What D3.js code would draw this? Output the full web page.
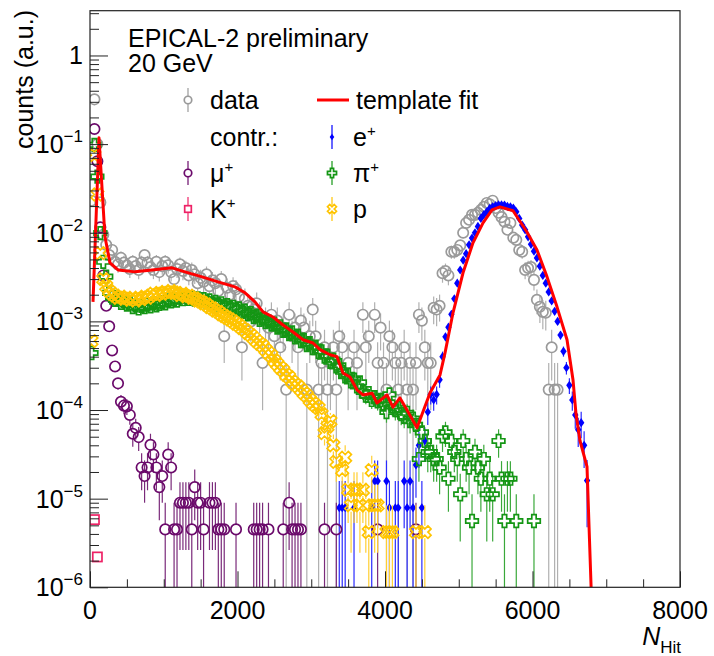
<!DOCTYPE html>
<html><head><meta charset="utf-8">
<script src="https://cdnjs.cloudflare.com/ajax/libs/d3/7.8.5/d3.min.js"></script>
<style>
body{margin:0;background:#fff}
svg{display:block}
text{font-family:"Liberation Sans",Arial,Helvetica,sans-serif;fill:#000}
</style>
</head><body>
<svg id="chart" width="714" height="656"></svg>
<script>
// ---------------- data (N_Hit bin centres, bin width 40) ----------------
const BIN = 40;
const xTicksMajor = [0, 2000, 4000, 6000, 8000];
const xTickLabels = ["0", "2000", "4000", "6000", "8000"];
const yTickExps = [-6, -5, -4, -3, -2, -1, 0];

// data: dense bins 20..3420, sparse 3500..3780, dense 3860..6340
const dataBand1 = [2.3e-2,0.32,0.1,2.2e-2,9.5e-3,7.3e-3,5.6e-3,6.4e-3,4.7e-3,4.4e-3,
  5.2e-3,4.6e-3,4.3e-3,3.9e-3,4.7e-3,4.2e-3,3.8e-3,4.6e-3,5.6e-3,4.6e-3,
  4.1e-3,3.8e-3,4.7e-3,3.6e-3,4.2e-3,4.7e-3,4.3e-3,3.6e-3,3.0e-3,3.9e-3,
  4.4e-3,3.7e-3,4.0e-3,3.3e-3,3.8e-3,3.4e-3,2.7e-3,3.1e-3,2.8e-3,3.4e-3,
  2.5e-3,2.9e-3,2.7e-3,2.2e-3,3.0e-3,6.8e-4,2.4e-3,2.0e-3,2.5e-3,2.3e-3,
  1.9e-3,5.1e-4,1.8e-3,1.5e-3,1.0e-3,1.36e-3,1.6e-3,1.19e-3,3.4e-4,1.02e-3,
  8.5e-4,1.19e-3,6.8e-4,1.02e-3,5.1e-4,8.5e-4,1.7e-4,1.19e-3,6.8e-4,8.5e-4,
  5.1e-4,1.02e-3,8.5e-4,1.7e-4,6.8e-4,1.36e-3,6.8e-4,1.7e-4,3.4e-4,5.1e-4,
  1.7e-4,3.4e-4,5.1e-4,1.7e-4,6.8e-4,5.1e-4];
const dataSparse = [[3500,3.4e-4],[3580,5.1e-4],[3620,3.4e-4],[3700,1.19e-3],[3740,5.1e-4],[3780,6.8e-4]];
const dataBand2 = [1.19e-3,3.4e-4,8.5e-4,3.4e-4,1.7e-4,6.8e-4,5.1e-4,3.4e-4,1.7e-4,3.4e-4,
  5.1e-4,1.7e-4,3.4e-4,1.7e-4,3.4e-4,1.19e-3,1.02e-3,5.1e-4,3.4e-4,3.4e-4,
  1.42e-3,1.36e-3,1.5e-3,3.5e-3,3.7e-3,3.3e-3,6.1e-3,6.1e-3,6.4e-3,7.2e-3,
  1.0e-2,1.29e-2,1.4e-2,1.59e-2,1.59e-2,1.68e-2,1.81e-2,1.96e-2,2.17e-2,2.1e-2,
  2.3e-2,1.9e-2,1.68e-2,1.5e-2,1.33e-2,1.08e-2,1.29e-2,8.8e-3,8.3e-3,6.4e-3,
  6.1e-3,3.8e-3,4.0e-3,4.1e-3,2.94e-3,1.75e-3,1.46e-3,1.28e-3,1.25e-3,1.7e-4,
  5.1e-4,1.7e-4,1.7e-4];

// e+ contribution
const elecPts = [[3380,7.9e-6],[3420,7.9e-6],[3460,7.9e-6],[3580,7.9e-6],[3820,7.9e-6],[3860,1.58e-5],
  [3900,1.58e-5],[4020,1.58e-5],[4060,7.9e-6],[4140,7.9e-6],[4180,7.9e-6],[4260,1.58e-5],[4300,7.9e-6],
  [4340,1.58e-5],[4380,7.9e-6],[4420,2.4e-5],[4460,4.0e-5],[4500,7.9e-6],[4540,4.5e-5],[4580,9.5e-5],
  [4620,1.5e-4],[4660,1.3e-4],[4700,1.5e-4],[4740,2.2e-4],[4780,4.0e-4],[4820,6.7e-4],[4860,8.6e-4],
  [4900,1.2e-3],[4940,1.8e-3],[4980,2.7e-3],[5020,3.8e-3],[5060,4.9e-3],[5100,5.8e-3],[5140,7.3e-3],
  [5180,8.7e-3],[5220,1.0e-2],[5260,1.18e-2],[5300,1.45e-2],[5340,1.6e-2],[5380,1.72e-2],[5420,1.88e-2],
  [5460,1.96e-2],[5500,2.02e-2],[5540,2.06e-2],[5580,2.06e-2],[5620,2.05e-2],[5660,1.98e-2],[5700,1.96e-2],
  [5740,1.9e-2],[5780,1.72e-2],[5820,1.45e-2],[5860,1.22e-2],[5900,1.08e-2],[5940,9.0e-3],[5980,7.4e-3],
  [6020,6.2e-3],[6060,5.2e-3],[6100,4.2e-3],[6140,3.3e-3],[6180,2.7e-3],[6220,2.15e-3],[6260,1.7e-3],
  [6300,1.3e-3],[6340,1.0e-3],[6380,7.0e-4],[6420,4.6e-4],[6460,3.0e-4],[6500,1.9e-4],[6540,1.3e-4],
  [6580,8.8e-5],[6620,6.0e-5],[6660,7.2e-5],[6700,4.0e-5],[6740,1.6e-5]];

// mu+ contribution
const muonPts = [[60,0.148],[100,0.064],[140,0.0115],[180,3.3e-3],[220,1.5e-3],[260,8.8e-4],[300,4.7e-4],
  [340,3.1e-4],[380,2.0e-4],[420,1.24e-4],[460,1.12e-4],[500,1.1e-4],[540,8.8e-5],[580,5.4e-5],[620,6.3e-5],
  [660,4.95e-5],[700,2.25e-5],[740,1.8e-5],[780,2.25e-5],[820,4.05e-5],[860,3.15e-5],[900,2.25e-5],
  [940,1.35e-5],[980,1.8e-5],[1020,4.5e-6],[1060,3.15e-5],[1100,2.25e-5],[1140,4.5e-6],[1180,4.5e-6],
  [1220,9e-6],[1260,9e-6],[1300,9e-6],[1340,9e-6],[1380,4.5e-6],[1420,1.35e-5],[1460,9e-6],[1500,9e-6],
  [1540,4.5e-6],[1620,9e-6],[1660,9e-6],[1700,9e-6],[1740,4.5e-6],[1780,4.5e-6],[1820,4.5e-6],[1980,4.5e-6],
  [2220,4.5e-6],[2260,4.5e-6],[2300,4.5e-6],[2340,4.5e-6],[2420,4.5e-6],[2620,4.5e-6],[2700,9e-6],
  [2740,4.5e-6],[2780,4.5e-6],[2820,4.5e-6],[2860,4.5e-6],[3180,4.5e-6],[3340,4.5e-6],[3900,4.5e-6],[4420,4.5e-6]];

// K+ contribution
const kaonPts = [[60,5.8e-6],[100,2.2e-6]];

// pi+ contribution: early bins, dense band 180..4420, sparse tail
const pionEarly = [[20,4.4e-4],[60,9.8e-2],[100,4.3e-2],[140,9.9e-3]];
const pionBand = [4.7e-3,3.2e-3,2.1e-3,1.85e-3,1.75e-3,1.8e-3,1.62e-3,1.7e-3,1.55e-3,1.6e-3,
  1.45e-3,1.52e-3,1.4e-3,1.5e-3,1.45e-3,1.55e-3,1.48e-3,1.6e-3,1.52e-3,1.58e-3,
  1.65e-3,1.6e-3,1.72e-3,1.68e-3,1.78e-3,1.72e-3,1.85e-3,1.78e-3,1.9e-3,1.8e-3,
  1.86e-3,1.76e-3,1.82e-3,1.72e-3,1.78e-3,1.66e-3,1.72e-3,1.6e-3,1.66e-3,1.55e-3,
  1.6e-3,1.48e-3,1.52e-3,1.42e-3,1.46e-3,1.36e-3,1.4e-3,1.28e-3,1.32e-3,1.2e-3,
  1.24e-3,1.12e-3,1.16e-3,1.04e-3,1.08e-3,9.8e-4,1.0e-3,9.2e-4,9.4e-4,8.5e-4,
  8.8e-4,7.8e-4,8.1e-4,7.2e-4,7.5e-4,6.6e-4,6.9e-4,6.0e-4,6.2e-4,5.4e-4,
  5.7e-4,5.0e-4,5.2e-4,4.5e-4,4.6e-4,4.0e-4,4.1e-4,3.5e-4,3.7e-4,3.1e-4,
  3.2e-4,2.7e-4,2.4e-4,2.5e-4,2.1e-4,2.2e-4,1.85e-4,2.05e-4,1.6e-4,1.45e-4,
  1.55e-4,1.3e-4,1.4e-4,1.25e-4,1.3e-4,1.15e-4,9.5e-5,1.5e-4,1.1e-4,1.0e-4,
  1.05e-4,9.0e-5,8.4e-5,9.3e-5,7.5e-5,8.0e-5,6.8e-5];
const pionTail = [[4460,2.8e-5],[4500,5.6e-5],[4540,4.48e-5],[4580,3.36e-5],[4620,3.36e-5],[4660,2.8e-5],
  [4700,2.8e-5],[4740,2.24e-5],[4780,5.04e-5],[4820,5.6e-5],[4860,1.68e-5],[4900,4.48e-5],[4940,3.36e-5],
  [4980,2.8e-5],[5020,1.12e-5],[5060,4.48e-5],[5100,2.8e-5],[5140,2.24e-5],[5180,5.6e-6],[5220,3.36e-5],
  [5260,2.24e-5],[5300,1.68e-5],[5340,2.8e-5],[5380,1.12e-5],[5420,1.68e-5],[5460,1.12e-5],[5540,4.48e-5],
  [5580,1.68e-5],[5620,5.6e-6],[5660,1.68e-5],[5700,1.68e-5],[5780,5.6e-6],[6020,5.6e-6]];

// p contribution: early bins, dense band 180..3300, sparse tail
const protonEarly = [[20,6.0e-4],[60,7.5e-2],[100,2.7e-2],[140,5.9e-3]];
const protonBand = [3.0e-3,2.5e-3,2.2e-3,2.05e-3,1.95e-3,1.85e-3,1.9e-3,1.8e-3,1.85e-3,1.75e-3,
  1.8e-3,1.72e-3,1.85e-3,1.78e-3,1.9e-3,1.85e-3,1.95e-3,2.05e-3,1.98e-3,2.1e-3,
  2.05e-3,2.15e-3,2.1e-3,2.2e-3,2.12e-3,2.1e-3,1.98e-3,2.05e-3,1.92e-3,1.95e-3,
  1.85e-3,1.82e-3,1.72e-3,1.68e-3,1.6e-3,1.55e-3,1.45e-3,1.4e-3,1.32e-3,1.28e-3,
  1.2e-3,1.15e-3,1.1e-3,1.05e-3,1.0e-3,9.4e-4,9.0e-4,8.4e-4,8.0e-4,7.4e-4,
  7.0e-4,6.5e-4,6.0e-4,5.6e-4,5.3e-4,4.8e-4,4.4e-4,4.1e-4,3.6e-4,3.3e-4,
  3.0e-4,2.8e-4,2.5e-4,2.35e-4,2.1e-4,1.95e-4,1.85e-4,1.7e-4,1.55e-4,1.45e-4,
  1.3e-4,1.2e-4,1.12e-4,1.05e-4,9.0e-5,5.5e-5,6.5e-5,7.5e-5,4.0e-5];
const protonTail = [[3340,2.6e-5],[3420,2.1e-5],[3460,2.9e-5],[3500,1.26e-5],[3540,8.4e-6],[3580,1.26e-5],
  [3620,1.26e-5],[3660,8.4e-6],[3700,1.26e-5],[3740,8.4e-6],[3780,4.2e-6],[3820,2.1e-5],[3860,8.4e-6],
  [3900,8.4e-6],[4020,4.2e-6],[4060,4.2e-6],[4100,4.2e-6],[4420,4.2e-6],[4540,4.2e-6]];

// template fit (sum of contributions)
const fitPts = [[41,1.66e-3],[122,0.118],[203,9.0e-3],[271,4.57e-3],[380,3.81e-3],[610,3.62e-3],[841,3.81e-3],
  [1112,4.02e-3],[1288,3.62e-3],[1519,3.18e-3],[1736,2.79e-3],[1966,2.45e-3],[2102,2.10e-3],[2237,1.66e-3],
  [2346,1.28e-3],[2481,1.12e-3],[2617,9.1e-4],[2752,7.6e-4],[2888,6.2e-4],[3024,5.7e-4],[3119,4.8e-4],
  [3254,4.2e-4],[3349,4.0e-4],[3430,2.62e-4],[3525,2.36e-4],[3620,1.69e-4],[3702,1.48e-4],[3824,1.55e-4],
  [3891,1.20e-4],[4027,1.48e-4],[4108,1.08e-4],[4203,1.37e-4],[4298,1.0e-4],[4434,6.3e-5],[4610,1.56e-4],
  [4746,2.49e-4],[4814,4.41e-4],[4922,1.25e-3],[5058,3.53e-3],[5193,7.7e-3],[5329,1.29e-2],[5451,1.81e-2],
  [5559,1.96e-2],[5736,1.77e-2],[5925,1.02e-2],[6061,6.4e-3],[6197,3.18e-3],[6332,1.46e-3],[6468,6.2e-4],
  [6549,2.2e-4],[6590,9e-5],[6644,4.5e-5],[6739,2.3e-5],[6807,5e-7]];

// ---------------- drawing ----------------
const band = (start, vals) => vals.map((v, i) => [start + i * BIN, v]);
const dataPts = band(20, dataBand1).concat(dataSparse, band(3860, dataBand2));
const pionPts = pionEarly.concat(band(180, pionBand), pionTail);
const protonPts = protonEarly.concat(band(180, protonBand), protonTail);

const L = 90, R = 680, T = 10.7, B = 587.3;
const svg = d3.select("#chart");
const x = d3.scaleLinear().domain([0, 8000]).range([L, R]);
const y = d3.scaleLog().domain([1e-6, 3.2]).range([B, T]);

svg.append("defs").append("clipPath").attr("id", "plotclip")
  .append("rect").attr("x", L).attr("y", T).attr("width", R - L).attr("height", B - T);

function crossPath(s, a) {
  return `M${-a},${-s}H${a}V${-a}H${s}V${a}H${a}V${s}H${-a}V${a}H${-s}V${-a}H${-a}Z`;
}
function diamondPath(w, h) { return `M0,${-h}L${w},0L0,${h}L${-w},0Z`; }

function drawMarker(g, type, color, cx, cy, scale) {
  const k = scale || 1;
  if (type === "circle") {
    g.append("circle").attr("cx", cx).attr("cy", cy).attr("r", 5.2 * k)
      .attr("fill", "none").attr("stroke", color).attr("stroke-width", 1.7);
  } else if (type === "square") {
    g.append("rect").attr("x", cx - 4.6 * k).attr("y", cy - 4.6 * k).attr("width", 9.2 * k).attr("height", 9.2 * k)
      .attr("fill", "none").attr("stroke", color).attr("stroke-width", 1.7);
  } else if (type === "cross") {
    g.append("path").attr("d", crossPath(6.3 * k, 2.2 * k)).attr("transform", `translate(${cx},${cy})`)
      .attr("fill", "none").attr("stroke", color).attr("stroke-width", 1.7);
  } else if (type === "xcross") {
    g.append("path").attr("d", crossPath(6.6 * k, 2.2 * k)).attr("transform", `translate(${cx},${cy}) rotate(45)`)
      .attr("fill", "none").attr("stroke", color).attr("stroke-width", 1.7);
  } else if (type === "diamond") {
    g.append("path").attr("d", diamondPath(3.2 * k, 4.6 * k)).attr("transform", `translate(${cx},${cy})`)
      .attr("fill", color).attr("stroke", "none");
  }
}

const series = [
  { pts: dataPts,   unit: 1.7e-4, color: "#9a9a9a", bar: "#b0b0b0", marker: "circle",  gap: 5.2 },
  { pts: elecPts,   unit: 7.9e-6, color: "#0000ff", bar: "#2a2aff", marker: "diamond", gap: 0 },
  { pts: muonPts,   unit: 4.5e-6, color: "#6b0a6b", bar: "#7a2a7a", marker: "circle",  gap: 5.2 },
  { pts: kaonPts,   unit: 0,      color: "#ee2266", bar: "#ee2266", marker: "square",  gap: 4.6 },
  { pts: pionPts,   unit: 5.6e-6, color: "#149614", bar: "#3aa83a", marker: "cross",   gap: 6.3 },
  { pts: protonPts, unit: 4.2e-6, color: "#ffc400", bar: "#ffcf33", marker: "xcross",  gap: 6.3 }
];

const plot = svg.append("g").attr("clip-path", "url(#plotclip)");

series.forEach(s => {
  const gb = plot.append("g");
  if (s.unit > 0) {
    s.pts.forEach(([n, v]) => {
      const e = Math.sqrt(v * s.unit);
      const cx = x(n), cy = y(v);
      const yTop = y(v + e);
      const yBot = (v - e) > 1e-7 ? y(v - e) : B + 10;
      if (cy - s.gap > yTop) gb.append("line").attr("x1", cx).attr("x2", cx).attr("y1", yTop).attr("y2", cy - s.gap)
        .attr("stroke", s.bar).attr("stroke-width", 1.2);
      if (yBot > cy + s.gap) gb.append("line").attr("x1", cx).attr("x2", cx).attr("y1", cy + s.gap).attr("y2", yBot)
        .attr("stroke", s.bar).attr("stroke-width", 1.2);
    });
  }
  const gm = plot.append("g");
  s.pts.forEach(([n, v]) => drawMarker(gm, s.marker, s.color, x(n), y(v)));
});

// template fit line
plot.append("path").datum(fitPts)
  .attr("d", d3.line().x(d => x(d[0])).y(d => y(d[1])))
  .attr("fill", "none").attr("stroke", "#ff0000").attr("stroke-width", 3).attr("stroke-linejoin", "round");

// ---------------- axes ----------------
const axisColor = "#222";
// x minor ticks
const xMinor = d3.range(0, 8001, 500).filter(v => v % 2000 !== 0);
svg.append("g").attr("transform", `translate(0,${B})`)
  .call(d3.axisBottom(x).tickValues(xMinor).tickSize(-8).tickFormat(""))
  .call(g => { g.select(".domain").remove(); g.selectAll("line").attr("stroke", axisColor); });
svg.append("g").attr("transform", `translate(0,${B})`)
  .call(d3.axisBottom(x).tickValues(xTicksMajor).tickSize(-16).tickFormat(""))
  .call(g => { g.select(".domain").remove(); g.selectAll("line").attr("stroke", axisColor); });
xTicksMajor.forEach((v, i) => {
  svg.append("text").attr("x", x(v)).attr("y", 619).attr("text-anchor", "middle")
    .attr("font-size", 25).text(xTickLabels[i]);
});

// y ticks
const yMinor = [];
for (let e = -6; e <= 0; e++) for (let d = 2; d <= 9; d++) { const v = d * Math.pow(10, e); if (v <= 3.2) yMinor.push(v); }
const yMajor = yTickExps.map(e => Math.pow(10, e));
svg.append("g").attr("transform", `translate(${L},0)`)
  .call(d3.axisLeft(y).tickValues(yMinor).tickSize(-9).tickFormat(""))
  .call(g => { g.select(".domain").remove(); g.selectAll("line").attr("stroke", axisColor); });
svg.append("g").attr("transform", `translate(${L},0)`)
  .call(d3.axisLeft(y).tickValues(yMajor).tickSize(-18).tickFormat(""))
  .call(g => { g.select(".domain").remove(); g.selectAll("line").attr("stroke", axisColor); });
yTickExps.forEach(e => {
  const t = svg.append("text").attr("x", 83).attr("y", y(Math.pow(10, e)) + 9)
    .attr("text-anchor", "end").attr("font-size", 25);
  if (e === 0) { t.text("1"); }
  else {
    t.append("tspan").text("10");
    t.append("tspan").attr("font-size", 17).attr("dy", -11).text("\u2212" + (-e));
  }
});

// frame
svg.append("rect").attr("x", L).attr("y", T).attr("width", R - L).attr("height", B - T)
  .attr("fill", "none").attr("stroke", axisColor).attr("stroke-width", 1.2);

// axis titles
const xt = svg.append("text").attr("x", 681).attr("y", 645).attr("text-anchor", "end").attr("font-size", 25);
xt.append("tspan").attr("font-style", "italic").text("N");
xt.append("tspan").attr("font-size", 17).attr("dy", 8).text("Hit");
svg.append("text").attr("transform", "translate(33,10) rotate(-90)").attr("text-anchor", "end")
  .attr("font-size", 25).text("counts (a.u.)");

// header text
svg.append("text").attr("x", 128).attr("y", 47).attr("font-size", 25).text("EPICAL-2 preliminary");
svg.append("text").attr("x", 128).attr("y", 72).attr("font-size", 25).text("20 GeV");

// ---------------- legend ----------------
const leg = svg.append("g");
const rowsY = [100, 137, 173, 209];
function legMarker(type, color, cx, cy) {
  leg.append("line").attr("x1", cx).attr("x2", cx).attr("y1", cy - 12).attr("y2", cy + 12)
    .attr("stroke", color).attr("stroke-width", 1.2);
  if (type !== "diamond") {
    // white knock-out so the bar does not cross the marker
    leg.append("rect").attr("x", cx - 4).attr("y", cy - 4).attr("width", 8).attr("height", 8).attr("fill", "#fff");
  }
  drawMarker(leg, type, color, cx, cy, 0.72);
}
function legText(tx, cy, main, sup) {
  const t = leg.append("text").attr("x", tx).attr("y", cy + 9).attr("font-size", 25);
  t.append("tspan").text(main);
  if (sup) t.append("tspan").attr("font-size", 15).attr("dy", -10).text(sup);
}
legMarker("circle", "#9a9a9a", 188, rowsY[0]); legText(210, rowsY[0], "data");
leg.append("line").attr("x1", 317).attr("x2", 349).attr("y1", rowsY[0]).attr("y2", rowsY[0])
  .attr("stroke", "#ff0000").attr("stroke-width", 3);
legText(356, rowsY[0], "template fit");
legText(210, rowsY[1], "contr.:");
legMarker("diamond", "#0000ff", 332, rowsY[1]); legText(353, rowsY[1], "e", "+");
legMarker("circle", "#6b0a6b", 188, rowsY[2]); legText(210, rowsY[2], "\u03bc", "+");
legMarker("cross", "#149614", 332, rowsY[2]); legText(353, rowsY[2], "\u03c0", "+");
legMarker("square", "#ee2266", 188, rowsY[3]); legText(210, rowsY[3], "K", "+");
legMarker("xcross", "#ffc400", 332, rowsY[3]); legText(353, rowsY[3], "p");
</script>
</body></html>
